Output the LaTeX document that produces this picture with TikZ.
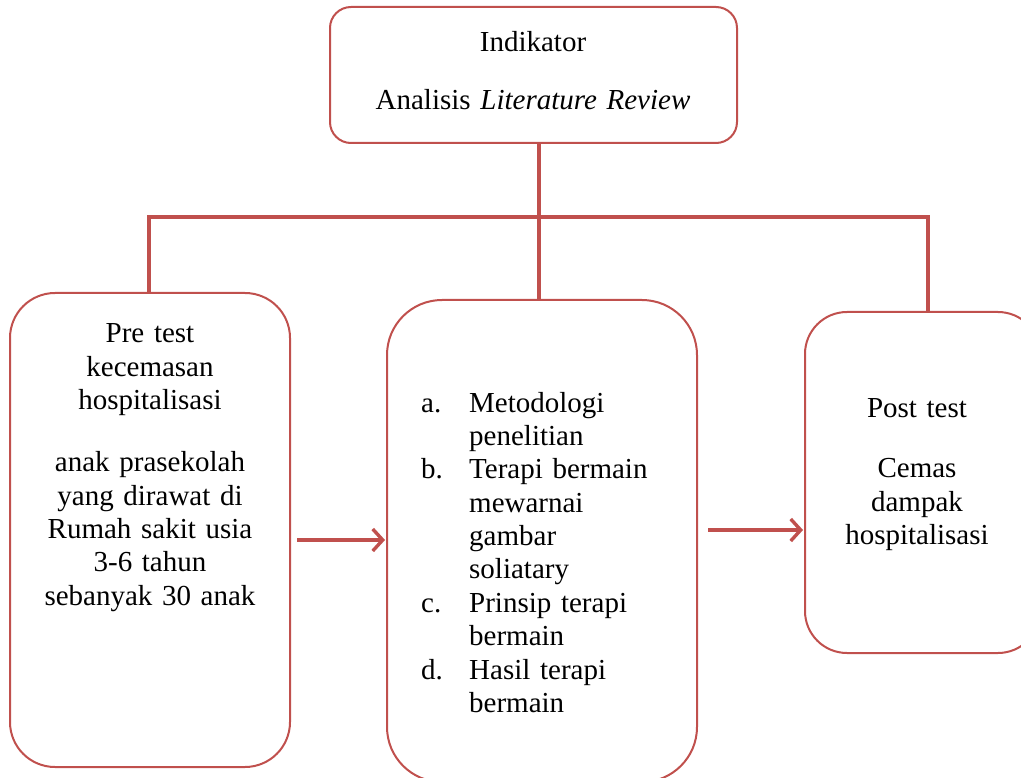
\documentclass[tikz,border=0pt]{standalone}
\usepackage{fontspec}
\setmainfont{Liberation Serif}
\usetikzlibrary{arrows.meta}
\definecolor{accred}{HTML}{C0504D}
\begin{document}
\begin{tikzpicture}[x=1pt,y=-1pt,
  box/.style={draw=accred, line width=2pt, inner sep=0pt},
  link/.style={draw=accred, line width=3.6pt},
  arr/.style={draw=accred, line width=3.4pt, -{Straight Barb[length=10pt,width=22pt,line width=3.4pt]}},
  txt/.style={inner sep=0pt, anchor=base, align=center, font=\fontsize{29}{33.4}\selectfont}]
\useasboundingbox (0,0) rectangle (1021,778);
\clip (0,0) rectangle (1021,778);
% boxes
\node[box, rounded corners=21pt, minimum width=407pt, minimum height=136pt] (top) at (533.5,75) {};
\node[box, rounded corners=45pt, minimum width=280pt, minimum height=474pt] (lbox) at (150,530) {};
\node[box, rounded corners=55pt, minimum width=310pt, minimum height=482pt] (mid) at (542,541) {};
\node[box, rounded corners=42pt, minimum width=235pt, minimum height=341pt] (rbox) at (922.5,482.5) {};
% texts
\node[txt, text width=400pt] (toptxt) at (533,52) {Indikator\\[24.6pt]Analisis \textit{Literature Review}};
\node[txt, text width=270pt] (ltxt) at (150,343) {Pre test\\kecemasan\\hospitalisasi\\[28.6pt]anak prasekolah\\yang dirawat di\\Rumah sakit usia\\3-6 tahun\\sebanyak 30 anak};
\node[txt, align=left, text width=260pt, anchor=base west] (mtxt) at (421,412) {%
\makebox[48pt][l]{a.}Metodologi\\\hspace*{48pt}penelitian\\%
\makebox[48pt][l]{b.}Terapi bermain\\\hspace*{48pt}mewarnai\\\hspace*{48pt}gambar\\\hspace*{48pt}soliatary\\%
\makebox[48pt][l]{c.}Prinsip terapi\\\hspace*{48pt}bermain\\%
\makebox[48pt][l]{d.}Hasil terapi\\\hspace*{48pt}bermain};
\node[txt, text width=220pt] (rtxt) at (917,417) {Post test\\[27.6pt]Cemas\\dampak\\hospitalisasi};
% connectors
\coordinate (hj) at (539,217);
\coordinate (hl) at (149,217);
\coordinate (hr) at (928,217);
\draw[link] (hj |- top.south) -- (hj |- mid.north);
\draw[link] (hl |- lbox.north) -- (hl) -- (hr) -- (hr |- rbox.north);
\coordinate (y1) at (0,540);
\coordinate (y2) at (0,530);
\draw[arr, shorten <=6pt, shorten >=1pt] (lbox.east |- y1) -- (mid.west |- y1);
\draw[arr, shorten <=10pt, shorten >=1pt] (mid.east |- y2) -- (rbox.west |- y2);
\end{tikzpicture}
\end{document}
